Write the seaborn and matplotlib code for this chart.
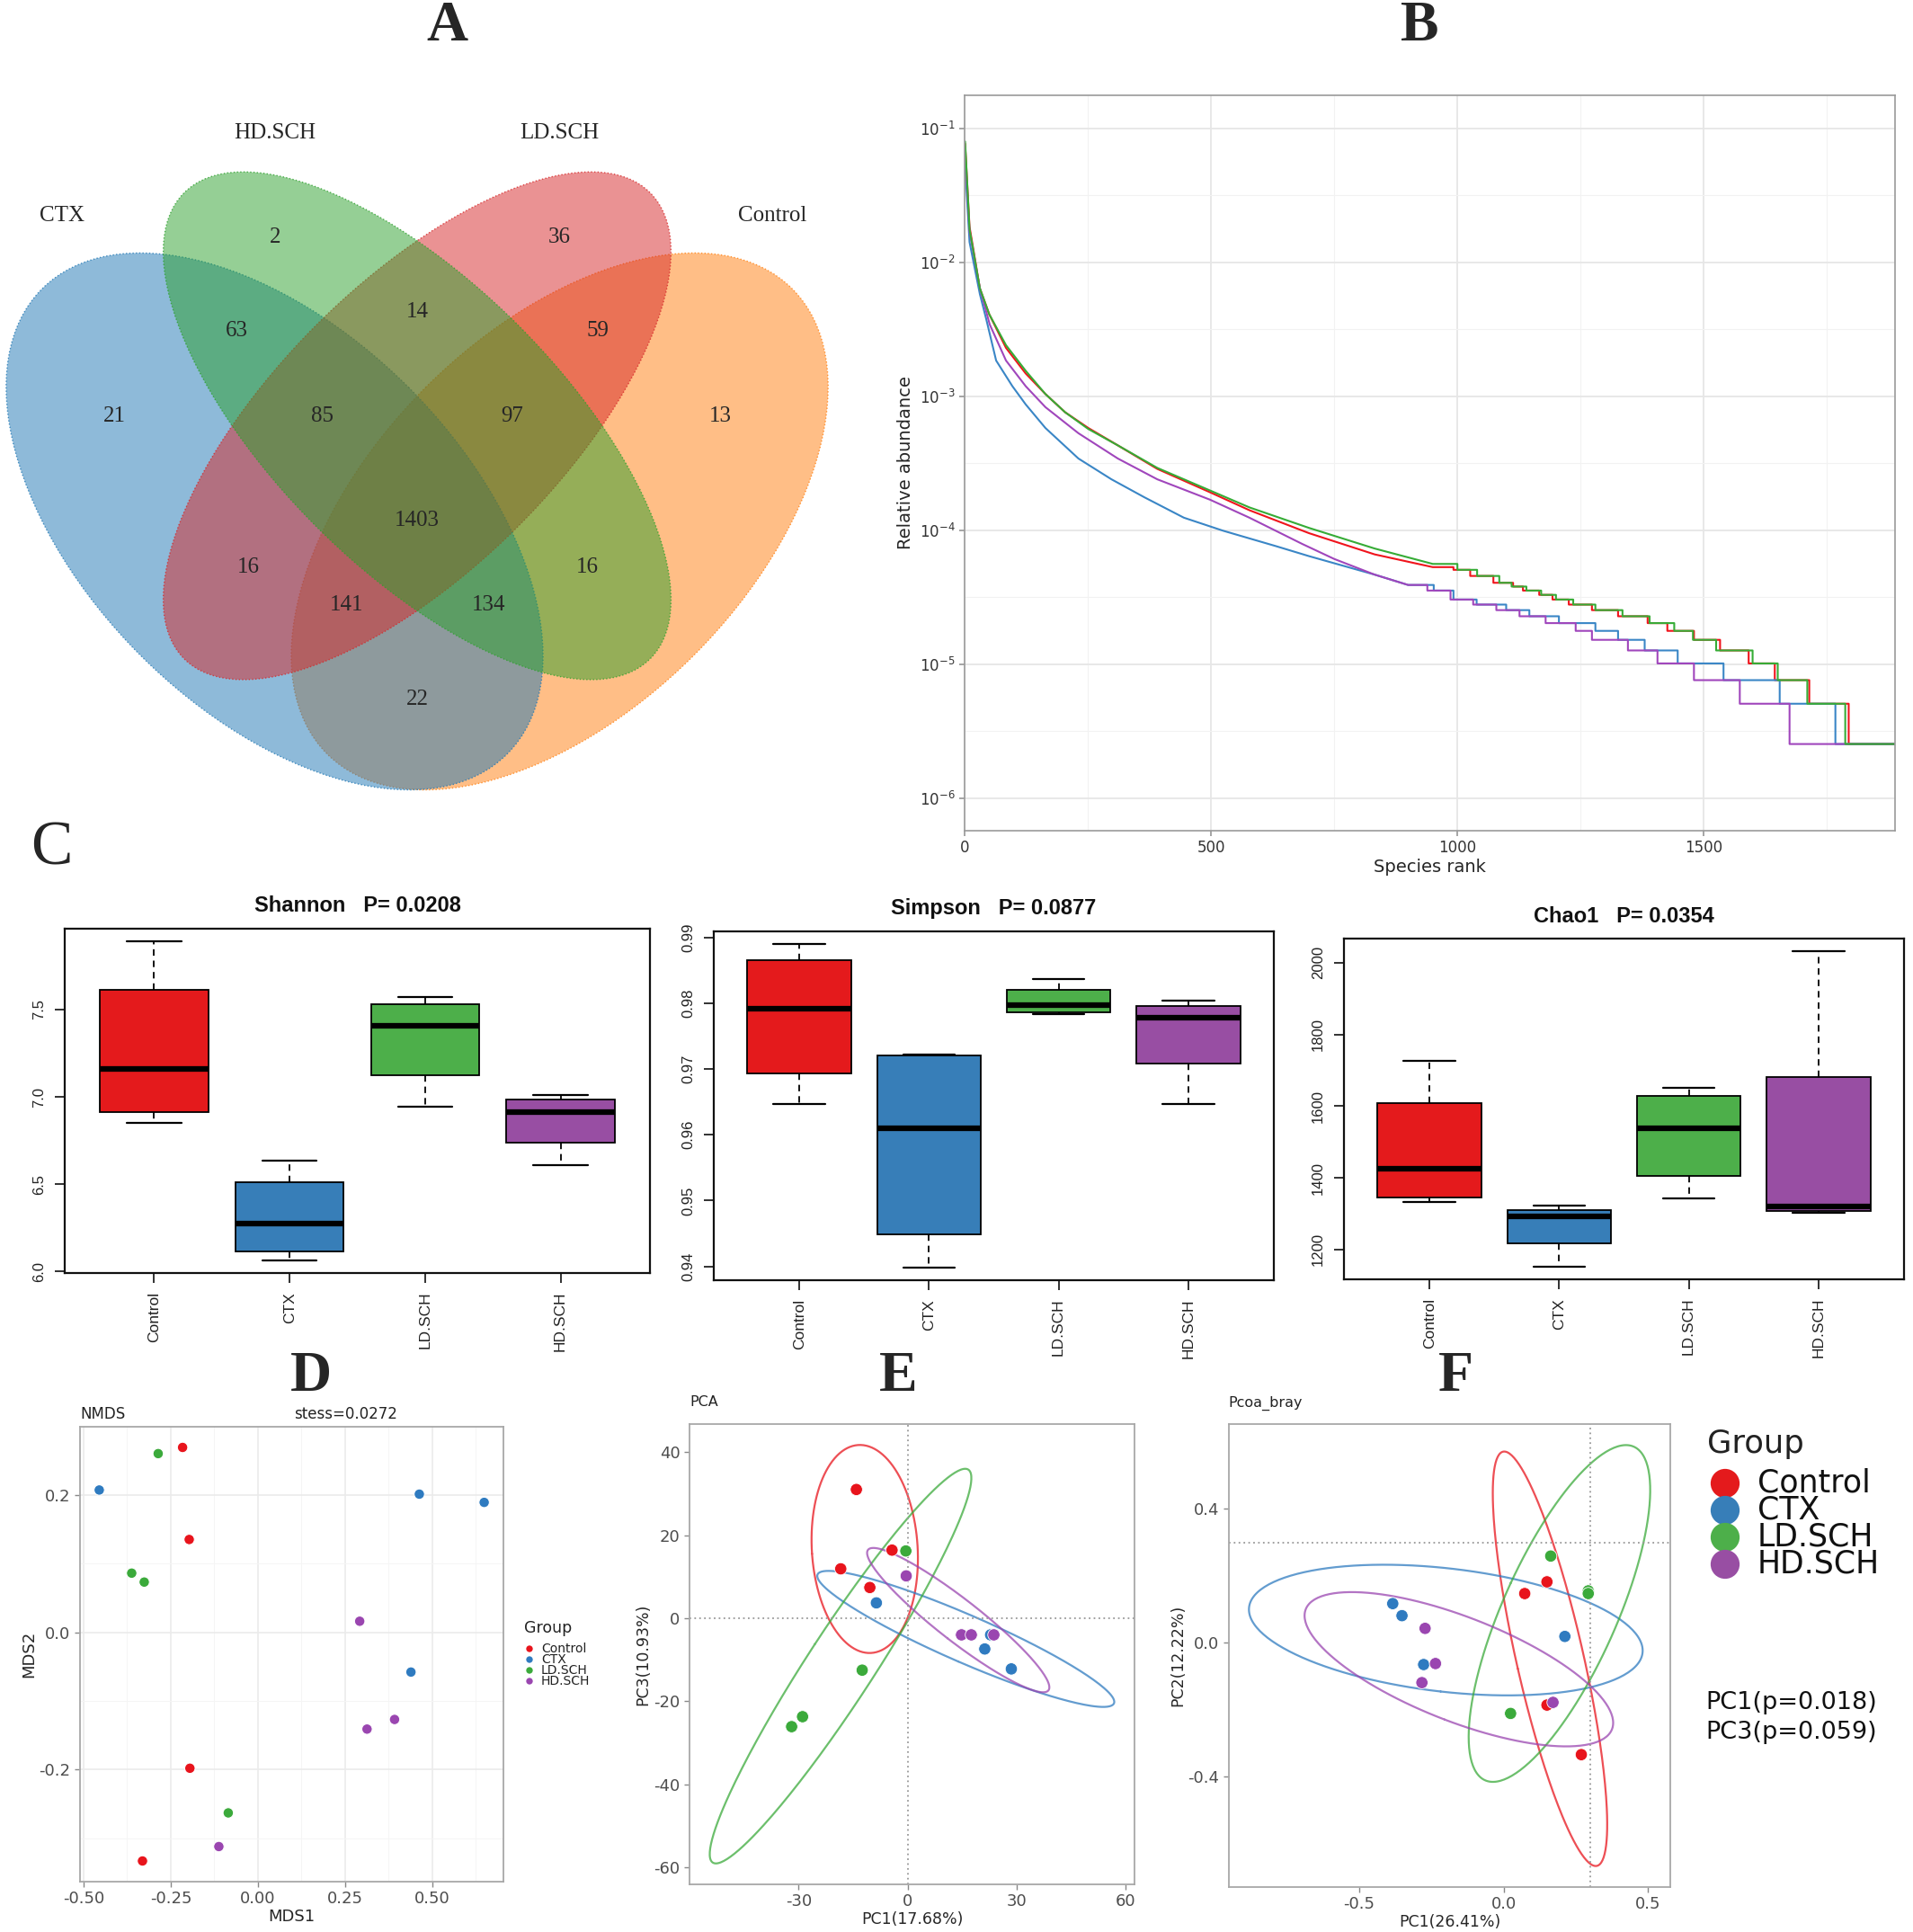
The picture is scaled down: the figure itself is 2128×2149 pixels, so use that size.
import numpy as np
import pandas as pd
import matplotlib
matplotlib.use("Agg")
import matplotlib.pyplot as plt
import seaborn as sns
from matplotlib.patches import Ellipse
from matplotlib.ticker import FixedLocator, NullFormatter

sns.set_theme(style="white")
plt.rcParams["font.family"] = ["DejaVu Sans"]
plt.rcParams["axes.unicode_minus"] = False

# ======================= DATA =======================
groups = ["Control", "CTX", "LD.SCH", "HD.SCH"]

# ---- A: Venn (OTU counts per region) ----
venn_sets = ["Control", "CTX", "LD.SCH", "HD.SCH"]          # drawing order
venn_regions = ["CTX", "HD.SCH", "LD.SCH", "Control",
                "CTX&HD.SCH", "HD.SCH&LD.SCH", "LD.SCH&Control",
                "CTX&HD.SCH&LD.SCH", "HD.SCH&LD.SCH&Control",
                "CTX&LD.SCH", "all", "HD.SCH&Control",
                "CTX&LD.SCH&Control", "CTX&HD.SCH&Control", "CTX&Control"]
venn_counts = [21, 2, 36, 13, 63, 14, 59, 85, 97, 16, 1403, 16, 141, 134, 22]

# ---- B: rank abundance curves ----
read_unit = 2.53e-6  # abundance of a single read
ctrl_rank = [1, 10, 31, 50, 84, 124, 164, 204, 251, 311, 391, 498, 578, 699, 832, 950]
ctrl_abund = [7.7e-2, 1.85e-2, 6.4e-3, 4.1e-3, 2.3e-3, 1.48e-3, 1.04e-3, 7.6e-4,
              5.8e-4, 4.3e-4, 2.87e-4, 1.92e-4, 1.41e-4, 9.5e-5, 6.6e-5, 5.3e-5]
ctrl_step_rank = [992, 1026, 1073, 1113, 1133, 1166, 1193, 1226, 1273, 1326, 1386,
                  1426, 1480, 1533, 1591, 1644, 1714, 1794]
ctrl_step_count = [20, 18, 16, 15, 14, 13, 12, 11, 10, 9, 8, 7, 6, 5, 4, 3, 2, 1]

ld_rank = [1, 10, 31, 50, 84, 124, 164, 204, 251, 311, 391, 498, 578, 699, 832, 950]
ld_abund = [8.0e-2, 1.77e-2, 6.4e-3, 4.1e-3, 2.41e-3, 1.55e-3, 1.04e-3, 7.6e-4,
            5.7e-4, 4.3e-4, 2.92e-4, 1.98e-4, 1.48e-4, 1.04e-4, 7.3e-5, 5.6e-5]
ld_step_rank = [1000, 1040, 1085, 1110, 1140, 1170, 1200, 1235, 1280, 1335, 1390,
                1440, 1478, 1525, 1599, 1650, 1710, 1787]
ld_step_count = [20, 18, 16, 15, 14, 13, 12, 11, 10, 9, 8, 7, 6, 5, 4, 3, 2, 1]

ctx_rank = [1, 10, 31, 44, 64, 97, 124, 164, 231, 298, 365, 445, 525, 632, 699, 832, 900]
ctx_abund = [5.4e-2, 1.42e-2, 5.8e-3, 3.76e-3, 1.85e-3, 1.19e-3, 8.7e-4, 5.8e-4,
             3.43e-4, 2.40e-4, 1.76e-4, 1.24e-4, 9.9e-5, 7.6e-5, 6.4e-5, 4.66e-5, 3.9e-5]
ctx_step_rank = [952, 992, 1039, 1099, 1146, 1206, 1280, 1326, 1380, 1447, 1540, 1654, 1767]
ctx_step_count = [14, 12, 11, 10, 9, 8, 7, 6, 5, 4, 3, 2, 1]

hd_rank = [1, 10, 31, 51, 84, 124, 164, 231, 311, 391, 498, 578, 685, 750, 832, 900]
hd_abund = [6.4e-2, 1.70e-2, 6.4e-3, 3.44e-3, 1.85e-3, 1.19e-3, 8.3e-4, 5.3e-4,
            3.43e-4, 2.40e-4, 1.69e-4, 1.24e-4, 7.9e-5, 6.1e-5, 4.66e-5, 3.9e-5]
hd_step_rank = [939, 986, 1032, 1079, 1126, 1179, 1240, 1273, 1346, 1406, 1480, 1573, 1674]
hd_step_count = [14, 12, 11, 10, 9, 8, 7, 6, 5, 4, 3, 2, 1]
max_rank = 1888

# ---- C: alpha diversity (min, Q1, median, Q3, max) ----
shannon_control = [6.853, 6.914, 7.159, 7.612, 7.889]
shannon_ctx = [6.065, 6.113, 6.276, 6.513, 6.634]
shannon_ld = [6.943, 7.125, 7.405, 7.530, 7.569]
shannon_hd = [6.608, 6.736, 6.912, 6.987, 7.013]

simpson_control = [0.96474, 0.96927, 0.97914, 0.98660, 0.98896]
simpson_ctx = [0.93986, 0.94491, 0.96096, 0.97210, 0.97220]
simpson_ld = [0.97834, 0.97857, 0.97975, 0.98202, 0.98372]
simpson_hd = [0.96474, 0.97088, 0.97787, 0.97957, 0.98046]

chao1_control = [1333, 1345, 1424, 1608, 1727]
chao1_ctx = [1152, 1216, 1292, 1309, 1323]
chao1_ld = [1343, 1405, 1537, 1628, 1650]
chao1_hd = [1303, 1307, 1320, 1682, 2032]

# ---- D: NMDS ----
nmds_group = ["Control"] * 4 + ["CTX"] * 4 + ["LD.SCH"] * 4 + ["HD.SCH"] * 4
nmds_x = [-0.216, -0.197, -0.195, -0.331,
          -0.455, 0.463, 0.649, 0.439,
          -0.286, -0.362, -0.326, -0.085,
          0.292, 0.392, 0.313, -0.112]
nmds_y = [0.269, 0.135, -0.198, -0.333,
          0.207, 0.201, 0.189, -0.058,
          0.260, 0.086, 0.073, -0.263,
          0.016, -0.127, -0.141, -0.312]

# ---- E: PCA ----
pca_group = nmds_group
pca_x = [-14.1, -18.4, -10.4, -4.3,
         -8.6, 21.2, 22.8, 28.5,
         -0.5, -12.5, -28.9, -31.9,
         -0.4, 14.8, 17.5, 23.7]
pca_y = [31.0, 11.9, 7.4, 16.4,
         3.7, -7.4, -4.0, -12.2,
         16.2, -12.5, -23.7, -26.1,
         10.2, -4.0, -4.0, -4.0]
pca_ref = (0.0, 0.0)

# ---- F: PCoA (Bray) ----
pcoa_group = nmds_group
pcoa_x = [0.073, 0.150, 0.150, 0.269,
          -0.384, -0.352, -0.277, 0.212,
          0.163, 0.293, 0.293, 0.024,
          -0.272, -0.236, -0.283, 0.171]
pcoa_y = [0.147, 0.182, -0.186, -0.334,
          0.117, 0.081, -0.065, 0.019,
          0.259, 0.155, 0.147, -0.211,
          0.043, -0.062, -0.119, -0.178]
pcoa_ref = (0.3, 0.3)

# ======================= STYLE / LAYOUT =======================
W, H = 2128, 2149
fig = plt.figure(figsize=(W / 100, H / 100), dpi=100)
fig.patch.set_facecolor("white")


def px_axes(x0, y0, x1, y1):
    return fig.add_axes([x0 / W, 1 - y1 / H, (x1 - x0) / W, (y1 - y0) / H])


def fx(x):
    return x / W


def fy(y):
    return 1 - y / H


venn_colors = {"CTX": "#1F77B4", "HD.SCH": "#2CA02C", "LD.SCH": "#D62728", "Control": "#FF7F0E"}
box_colors = {"Control": "#E41A1C", "CTX": "#377EB8", "LD.SCH": "#4DAF4A", "HD.SCH": "#984EA3"}
line_colors = {"Control": "#F0141C", "CTX": "#3A86C6", "LD.SCH": "#36AC36", "HD.SCH": "#A046BC"}
pt_colors = {"Control": "#E8141C", "CTX": "#2F7BC0", "LD.SCH": "#3BAA3B", "HD.SCH": "#9A46B0"}
SERIF = ["Liberation Serif", "DejaVu Serif"]
ARIAL = ["Liberation Sans", "DejaVu Sans"]

# panel letters
for letter, (x, y), bold in [("A", (497, 30), True), ("B", (1579, 30), True),
                              ("C", (57, 945), False), ("D", (346, 1532), True),
                              ("E", (999, 1532), True), ("F", (1619, 1532), True)]:
    fig.text(fx(x), fy(y), letter, family=SERIF, fontsize=46 if bold else 50,
             fontweight="bold" if bold else "normal", ha="center", va="center")

# ======================= A: Venn =======================
axA = px_axes(0, 0, 961, 906)
axA.set_xlim(0, 700)
axA.set_ylim(660, 0)
axA.set_axis_off()
venn_geom = {"CTX": (222.5, 422.5, 266.5, 153.6, 45),
             "HD.SCH": (338, 345, 267, 115.5, 45),
             "LD.SCH": (338, 345, 267, 115.5, -45),
             "Control": (453.5, 422.5, 266.5, 153.6, -45)}
for s in venn_sets:
    cx, cy, a, b, ang = venn_geom[s]
    axA.add_patch(Ellipse((cx, cy), 2 * a, 2 * b, angle=ang, facecolor=venn_colors[s],
                          alpha=0.5, edgecolor="none"))
    axA.add_patch(Ellipse((cx, cy), 2 * a, 2 * b, angle=ang, facecolor="none",
                          edgecolor=venn_colors[s], lw=1.0, ls=":", alpha=0.8))
venn_pos = [(93, 337), (223, 192), (453, 192), (584, 337),
            (192, 268), (338, 253), (484, 268),
            (261, 337), (415, 337),
            (201, 460), (338, 422), (476, 460),
            (281, 490), (396, 490), (338, 567)]
for c, (x, y) in zip(venn_counts, venn_pos):
    axA.text(x, y, str(c), family=SERIF, fontsize=18, ha="center", va="center")
for lab, (x, y) in [("CTX", (50, 175)), ("HD.SCH", (223, 108)),
                    ("LD.SCH", (453, 108)), ("Control", (626, 175))]:
    axA.text(x, y, lab, family=SERIF, fontsize=18, ha="center", va="center")

# ======================= B: rank abundance =======================
axB = px_axes(1073, 106, 2108, 924)


def rank_curve(r, v, sr, sc):
    xs, ys = list(r), list(v)
    prev = ys[-1]
    for rr, k in zip(sr, sc):
        lvl = k * read_unit
        xs += [rr, rr]
        ys += [prev, lvl]
        prev = lvl
    xs.append(max_rank)
    ys.append(prev)
    return xs, ys


curves = {"Control": rank_curve(ctrl_rank, ctrl_abund, ctrl_step_rank, ctrl_step_count),
          "CTX": rank_curve(ctx_rank, ctx_abund, ctx_step_rank, ctx_step_count),
          "HD.SCH": rank_curve(hd_rank, hd_abund, hd_step_rank, hd_step_count),
          "LD.SCH": rank_curve(ld_rank, ld_abund, ld_step_rank, ld_step_count)}
for g in ["Control", "CTX", "HD.SCH", "LD.SCH"]:
    xs, ys = curves[g]
    sns.lineplot(x=xs, y=ys, sort=False, estimator=None, color=line_colors[g],
                 lw=1.5, ax=axB)
axB.set_yscale("log")
axB.set_xlim(0, max_rank)
axB.set_ylim(5.7e-7, 0.177)
axB.yaxis.set_major_locator(FixedLocator([10.0 ** -k for k in range(1, 7)]))
axB.yaxis.set_major_formatter(plt.FuncFormatter(lambda v, p: r"$10^{%d}$" % round(np.log10(v))))
axB.yaxis.set_minor_locator(FixedLocator([10.0 ** (-k - 0.5) for k in range(0, 7)]))
axB.yaxis.set_minor_formatter(NullFormatter())
axB.xaxis.set_major_locator(FixedLocator([0, 500, 1000, 1500]))
axB.xaxis.set_minor_locator(FixedLocator([250, 750, 1250, 1750]))
axB.grid(True, which="major", color="#E6E6E6", lw=1.3)
axB.grid(True, which="minor", color="#F2F2F2", lw=0.8)
axB.set_axisbelow(True)
for sp in axB.spines.values():
    sp.set_color("#9A9A9A")
    sp.set_linewidth(1.2)
axB.tick_params(which="major", length=4, color="#9A9A9A", labelsize=12, labelcolor="#333333",
                left=True, bottom=True)
axB.tick_params(which="minor", length=0)
axB.set_xlabel("Species rank", fontsize=14, labelpad=2)
axB.set_ylabel("Relative abundance", fontsize=14, labelpad=4)

# ======================= C: boxplots =======================


def draw_box(ax, vals, title, ticks, ticklabels, title_y):
    rows = [(g, v) for g in groups for v in vals[g]]
    df = pd.DataFrame(rows, columns=["group", "value"])
    sns.boxplot(data=df, x="group", y="value", hue="group", order=groups, hue_order=groups,
                palette=box_colors, saturation=1, width=0.8, whis=(0, 100),
                showfliers=False, linecolor="black", linewidth=1.3, legend=False, ax=ax,
                medianprops=dict(linewidth=4.5, color="black"),
                whiskerprops=dict(linestyle=(0, (4, 3)), linewidth=1.3),
                capprops=dict(linewidth=1.6))
    lo = min(min(v) for v in vals.values())
    hi = max(max(v) for v in vals.values())
    pad = 0.04 * (hi - lo)
    ax.set_ylim(lo - pad, hi + pad)
    ax.set_xlim(-0.66, 3.66)
    ax.set_yticks(ticks)
    ax.set_yticklabels(ticklabels, family=ARIAL, fontsize=12, color="#222222",
                       rotation=90, va="center")
    ax.set_xticks(range(4))
    ax.set_xticklabels(groups, family=ARIAL, fontsize=12.5, color="#222222", rotation=90)
    ax.set_xlabel("")
    ax.set_ylabel("")
    for sp in ax.spines.values():
        sp.set_color("#111111")
        sp.set_linewidth(1.6)
    ax.tick_params(left=True, bottom=True, length=8, width=1.3, color="#222222", pad=7)
    bb = ax.get_position()
    fig.text(bb.x0 + bb.width / 2, fy(title_y), title, family=ARIAL, fontweight="bold",
             fontsize=17, ha="center", va="center", color="#111111")


axS = px_axes(72, 1033, 723, 1416)
draw_box(axS, {"Control": shannon_control, "CTX": shannon_ctx, "LD.SCH": shannon_ld,
               "HD.SCH": shannon_hd}, "Shannon   P= 0.0208",
         [6.0, 6.5, 7.0, 7.5], ["6.0", "6.5", "7.0", "7.5"], 1007)
axSi = px_axes(794, 1036, 1417, 1424)
draw_box(axSi, {"Control": simpson_control, "CTX": simpson_ctx, "LD.SCH": simpson_ld,
                "HD.SCH": simpson_hd}, "Simpson   P= 0.0877",
         [0.94, 0.95, 0.96, 0.97, 0.98, 0.99], ["0.94", "0.95", "0.96", "0.97", "0.98", "0.99"], 1010)
axCh = px_axes(1495, 1044, 2118, 1423)
draw_box(axCh, {"Control": chao1_control, "CTX": chao1_ctx, "LD.SCH": chao1_ld,
                "HD.SCH": chao1_hd}, "Chao1   P= 0.0354",
         [1200, 1400, 1600, 1800, 2000], ["1200", "1400", "1600", "1800", "2000"], 1020)

# ======================= D/E/F: ordinations =======================


def style_ord(ax, grid):
    for sp in ax.spines.values():
        sp.set_color("#A8A8A8")
        sp.set_linewidth(1.3)
    ax.tick_params(left=True, bottom=True, length=4, width=1, color="#888888",
                   labelcolor="#4D4D4D")
    if grid:
        ax.grid(True, which="major", color="#EBEBEB", lw=1.2)
        ax.grid(True, which="minor", color="#F5F5F5", lw=0.7)
        ax.tick_params(which="minor", length=0)
    else:
        ax.grid(False)
    ax.set_axisbelow(True)


def ellipse_xy(x, y, r=2.4477, n=240):
    x = np.asarray(x)
    y = np.asarray(y)
    cov = np.cov(x, y)
    vals, vecs = np.linalg.eigh(cov)
    t = np.linspace(0, 2 * np.pi, n)
    pts = vecs @ (np.sqrt(np.maximum(vals, 0))[:, None] * np.vstack([np.cos(t), np.sin(t)])) * r
    return x.mean() + pts[0], y.mean() + pts[1]


# ---- D ----
axD = px_axes(89, 1587, 560, 2093)
dfD = pd.DataFrame({"group": nmds_group, "x": nmds_x, "y": nmds_y})
sns.scatterplot(data=dfD, x="x", y="y", hue="group", hue_order=groups, palette=pt_colors,
                s=70, edgecolor="white", linewidth=0.8, legend=False, ax=axD)
xr = max(nmds_x) - min(nmds_x)
yr = max(nmds_y) - min(nmds_y)
axD.set_xlim(min(nmds_x) - 0.05 * xr, max(nmds_x) + 0.05 * xr)
axD.set_ylim(min(nmds_y) - 0.05 * yr, max(nmds_y) + 0.05 * yr)
axD.set_xticks([-0.5, -0.25, 0, 0.25, 0.5])
axD.set_xticklabels(["-0.50", "-0.25", "0.00", "0.25", "0.50"])
axD.set_yticks([-0.2, 0, 0.2])
axD.set_yticklabels(["-0.2", "0.0", "0.2"])
axD.xaxis.set_minor_locator(FixedLocator([-0.375, -0.125, 0.125, 0.375, 0.625]))
axD.yaxis.set_minor_locator(FixedLocator([-0.3, -0.1, 0.1]))
style_ord(axD, True)
axD.tick_params(labelsize=13)
axD.set_xlabel("MDS1", fontsize=13, labelpad=1)
axD.set_ylabel("MDS2", fontsize=13, labelpad=2)
fig.text(fx(89), fy(1573), "NMDS", fontsize=12, ha="left", va="center", color="#222222")
fig.text(fx(327), fy(1573), "stess=0.0272", fontsize=12, ha="left", va="center", color="#222222")


def ord_panel(ax, gx, gy, gg, ref, xticks, xtl, yticks, ytl, xlabel, ylabel):
    df = pd.DataFrame({"group": gg, "x": gx, "y": gy})
    ex_all, ey_all = [], []
    for g in groups:
        sub = df[df.group == g]
        ex, ey = ellipse_xy(sub.x.values, sub.y.values)
        ax.plot(ex, ey, color=pt_colors[g], lw=1.6, alpha=0.75)
        ex_all += list(ex)
        ey_all += list(ey)
    sns.scatterplot(data=df, x="x", y="y", hue="group", hue_order=groups, palette=pt_colors,
                    s=95, edgecolor="white", linewidth=0.6, legend=False, ax=ax, zorder=3)
    ax.axvline(ref[0], color="#999999", lw=1.3, ls=(0, (1, 2)))
    ax.axhline(ref[1], color="#999999", lw=1.3, ls=(0, (1, 2)))
    xr = max(ex_all) - min(ex_all)
    yr = max(ey_all) - min(ey_all)
    ax.set_xlim(min(ex_all) - 0.05 * xr, max(ex_all) + 0.05 * xr)
    ax.set_ylim(min(ey_all) - 0.05 * yr, max(ey_all) + 0.05 * yr)
    ax.set_xticks(xticks)
    ax.set_xticklabels(xtl)
    ax.set_yticks(yticks)
    ax.set_yticklabels(ytl)
    style_ord(ax, False)
    ax.tick_params(labelsize=13)
    ax.set_xlabel(xlabel, fontsize=12.5, labelpad=1)
    ax.set_ylabel(ylabel, fontsize=12.5, labelpad=2)


axE = px_axes(767, 1584, 1262, 2096)
ord_panel(axE, pca_x, pca_y, pca_group, pca_ref, [-30, 0, 30, 60], ["-30", "0", "30", "60"],
          [-60, -40, -20, 0, 20, 40], ["-60", "-40", "-20", "0", "20", "40"],
          "PC1(17.68%)", "PC3(10.93%)")
fig.text(fx(767), fy(1560), "PCA", fontsize=11.5, ha="left", va="center", color="#222222")

axF = px_axes(1367, 1584, 1858, 2099)
ord_panel(axF, pcoa_x, pcoa_y, pcoa_group, pcoa_ref, [-0.5, 0.0, 0.5], ["-0.5", "0.0", "0.5"],
          [-0.4, 0.0, 0.4], ["-0.4", "0.0", "0.4"], "PC1(26.41%)", "PC2(12.22%)")
fig.text(fx(1366), fy(1561), "Pcoa_bray", fontsize=11.5, ha="left", va="center", color="#222222")

# ---- legends (manual, overlay axes in pixel coords) ----
ovl = fig.add_axes([0, 0, 1, 1], facecolor="none")
ovl.set_xlim(0, W)
ovl.set_ylim(H, 0)
ovl.set_axis_off()

# small legend beside D
fig.text(fx(583), fy(1811), "Group", fontsize=12.5, ha="left", va="center", color="#222222")
d_leg_y = [1834, 1846, 1858, 1870]
ovl.scatter([589] * 4, d_leg_y, s=28, c=[pt_colors[g] for g in groups], edgecolor="none")
for g, y in zip(groups, d_leg_y):
    fig.text(fx(602), fy(y), g, fontsize=10, ha="left", va="center", color="#222222")

# big legend beside F
fig.text(fx(1899), fy(1606), "Group", fontsize=25.5, ha="left", va="center", color="#222222")
f_leg_y = [1650, 1680, 1710, 1740]
ovl.scatter([1919] * 4, f_leg_y, s=540, c=[box_colors[g] for g in groups], edgecolor="none")
for g, y in zip(groups, f_leg_y):
    fig.text(fx(1955), fy(y), g, fontsize=25, ha="left", va="center", color="#111111")
fig.text(fx(1897), fy(1894), "PC1(p=0.018)", fontsize=19.5, ha="left", va="center", color="#111111")
fig.text(fx(1897), fy(1927), "PC3(p=0.059)", fontsize=19.5, ha="left", va="center", color="#111111")

fig.savefig("out.png", dpi=100, facecolor="white")
